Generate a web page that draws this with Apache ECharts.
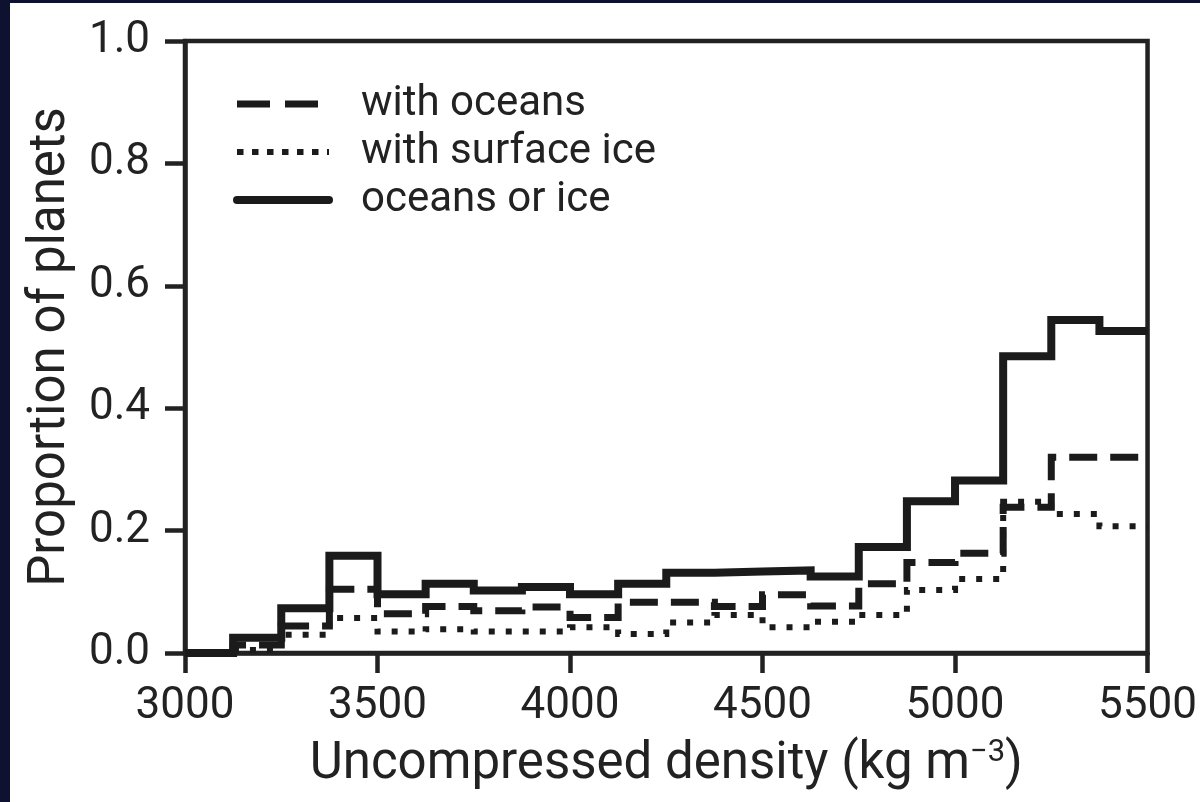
<!DOCTYPE html>
<html>
<head>
<meta charset="utf-8">
<script src="https://cdn.jsdelivr.net/npm/echarts@6/dist/echarts.min.js"></script>
<style>
  html, body { margin: 0; padding: 0; background: #ffffff; }
  #chart { width: 1200px; height: 802px; }
</style>
</head>
<body>
<div id="chart"></div>
<script>
// Histogram bin edges (kg m^-3)
const binEdges = [3000, 3125, 3250, 3375, 3500, 3625, 3750, 3875, 4000, 4125, 4250,
                  4375, 4500, 4625, 4750, 4875, 5000, 5125, 5250, 5375, 5500];
// Proportion of planets per bin
const withOceans = [0, 0.013, 0.044, 0.104, 0.064, 0.076, 0.069, 0.075, 0.058, 0.083,
                    0.083, 0.076, 0.095, 0.077, 0.113, 0.148, 0.163, 0.238, 0.320, 0.320];
const withSurfaceIce = [0, 0.005, 0.030, 0.057, 0.035, 0.039, 0.035, 0.035, 0.042, 0.031,
                        0.050, 0.062, 0.042, 0.051, 0.062, 0.103, 0.121, 0.247, 0.227, 0.207];
const oceansOrIce = [0, 0.025, 0.073, 0.159, 0.096, 0.113, 0.102, 0.108, 0.096, 0.113,
                     0.131, 0.133, 0.135, 0.125, 0.173, 0.248, 0.282, 0.485, 0.544, 0.526];
const seriesNames = ['with oceans', 'with surface ice', 'oceans or ice'];
const xTicks = [3000, 3500, 4000, 4500, 5000, 5500];
const yTicks = [0.0, 0.2, 0.4, 0.6, 0.8, 1.0];

function stepData(vals) {
  return binEdges.map((e, i) => [e, vals[Math.min(i, vals.length - 1)]]);
}

const ink = '#1b1b1b';
const textColor = '#222222';
const font = 'Roboto, "Noto Sans", sans-serif';

const lineStyles = [
  { color: ink, width: 7, type: [28, 13], cap: 'butt', join: 'miter' },
  { color: ink, width: 6, type: [6, 11], cap: 'butt', join: 'miter' },
  { color: ink, width: 8, type: 'solid', cap: 'butt', join: 'miter' }
];
const legendLineStyles = [
  { color: ink, width: 7, type: [33, 15], cap: 'butt' },
  { color: ink, width: 6, type: [6.5, 8.5], cap: 'butt' },
  { color: ink, width: 8, type: 'solid', cap: 'round' }
];

const chart = echarts.init(document.getElementById('chart'), null, { renderer: 'canvas' });
chart.setOption({
  backgroundColor: '#ffffff',
  animation: false,
  graphic: [
    { type: 'rect', left: 0, top: 0, shape: { width: 10, height: 802 }, style: { fill: '#0f1130' }, z: 100 },
    { type: 'rect', left: 0, top: 0, shape: { width: 1200, height: 3 }, style: { fill: '#0f1130' }, z: 100 }
  ],
  grid: {
    left: 185, right: 52, top: 41, bottom: 149,
    show: true, borderColor: '#222222', borderWidth: 4.5, backgroundColor: 'transparent'
  },
  legend: {
    orient: 'vertical',
    left: 233, top: 82, padding: 0,
    itemWidth: 92, itemHeight: 20, itemGap: 4,
    textStyle: { fontFamily: font, fontSize: 42, color: textColor, lineHeight: 44, padding: [0, 0, 0, 27] },
    data: seriesNames.map((n, i) => ({
      name: n,
      itemStyle: { opacity: 0 },
      lineStyle: legendLineStyles[i]
    })),
    selectedMode: false
  },
  xAxis: {
    type: 'value', min: 3000, max: 5500, interval: 500,
    name: '{a|Uncompressed density (kg m}{s|−3}{a|)}',
    nameLocation: 'middle', nameGap: 84,
    nameTextStyle: {
      rich: {
        a: { fontFamily: font, fontSize: 51, color: textColor, lineHeight: 56 },
        s: { fontFamily: font, fontSize: 31, color: textColor, lineHeight: 56, padding: [0, 0, 24, 0] }
      }
    },
    axisLine: { show: true, lineStyle: { color: '#222222', width: 4.5 } },
    axisTick: { show: true, length: 20, lineStyle: { color: '#222222', width: 4.5 } },
    axisLabel: { fontFamily: font, fontSize: 44, color: textColor, margin: 32,
                 formatter: v => xTicks.includes(v) ? String(v) : '' },
    splitLine: { show: false }
  },
  yAxis: {
    type: 'value', min: 0, max: 1, interval: 0.2,
    name: 'Proportion of planets',
    nameLocation: 'middle', nameGap: 108,
    nameTextStyle: { fontFamily: font, fontSize: 51, color: textColor },
    axisLine: { show: true, lineStyle: { color: '#222222', width: 4.5 } },
    axisTick: { show: true, length: 20, lineStyle: { color: '#222222', width: 4.5 } },
    axisLabel: { fontFamily: font, fontSize: 44, color: textColor, margin: 35,
                 formatter: v => yTicks.some(t => Math.abs(t - v) < 1e-9) ? v.toFixed(1) : '' },
    splitLine: { show: false }
  },
  series: [
    {
      name: seriesNames[0], type: 'line', step: 'end', symbol: 'none', showSymbol: false,
      data: stepData(withOceans), z: 3,
      lineStyle: lineStyles[0], itemStyle: { color: ink }
    },
    {
      name: seriesNames[1], type: 'line', step: 'end', symbol: 'none', showSymbol: false,
      data: stepData(withSurfaceIce), z: 2,
      lineStyle: lineStyles[1], itemStyle: { color: ink }
    },
    {
      name: seriesNames[2], type: 'line', step: 'end', symbol: 'none', showSymbol: false,
      data: stepData(oceansOrIce), z: 4,
      lineStyle: lineStyles[2], itemStyle: { color: ink }
    }
  ]
});
</script>
</body>
</html>
